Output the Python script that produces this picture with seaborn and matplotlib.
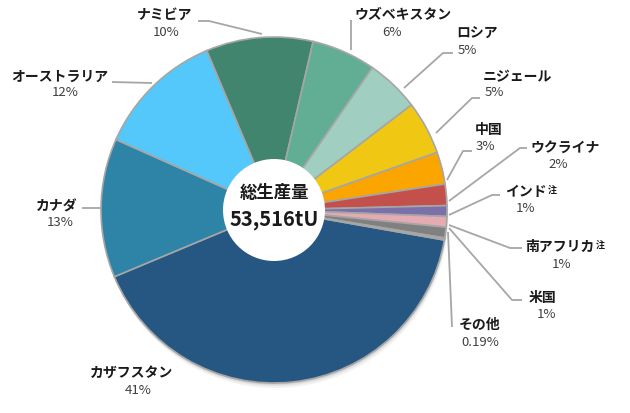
import seaborn as sns
import matplotlib.pyplot as plt
from matplotlib.patches import Circle

# データ（総生産量の国別シェア）
countries = ['カザフスタン', 'カナダ', 'オーストラリア', 'ナミビア', 'ウズベキスタン', 'ロシア',
             'ニジェール', '中国', 'ウクライナ', 'インド', '南アフリカ', '米国', 'その他']
shares = [41, 13, 12, 10, 6, 5, 5, 3, 2, 1, 1, 1, 0.19]
share_labels = ['41%', '13%', '12%', '10%', '6%', '5%', '5%', '3%', '2%', '1%', '1%', '1%', '0.19%']
noted = ['インド', '南アフリカ']
total_title = '総生産量'
total_value = '53,516tU'

colors = ['#255782', '#2E84A6', '#54C8FA', '#42856E', '#62AE95', '#A0CEC0',
          '#F0C814', '#FAA500', '#C4504C', '#7A71AA', '#E6AAB2', '#808080', '#A6A6A6']

sns.set_style('white')
plt.rcParams['font.family'] = ['Noto Sans CJK JP', 'DejaVu Sans']

W, H = 630, 413
fig = plt.figure(figsize=(6.3, 4.13), dpi=100)
ax = fig.add_axes([0, 0, 1, 1])

def Y(y):
    return H - y

cx, cy, r = 274, Y(210), 173

# 薄い影
for off, a in [(5, 0.10), (3, 0.15), (1.5, 0.2)]:
    ax.add_patch(Circle((cx + off * 0.3, cy - off), r, color='#808080', alpha=a, lw=0, zorder=0))

ax.pie(shares, colors=sns.color_palette(colors), startangle=-10, counterclock=False,
       center=(cx, cy), radius=r,
       wedgeprops=dict(edgecolor='#A6A6A6', linewidth=1.2))
ax.add_patch(Circle((cx, Y(210)), 51, color='white', lw=0, zorder=5))
ax.text(cx, Y(193), total_title, ha='center', va='center', fontsize=12.5,
        fontweight='bold', color='#1A1A1A', zorder=6)
ax.text(cx, Y(219), total_value, ha='center', va='center', fontsize=14.5,
        fontweight='bold', color='#1A1A1A', zorder=6)

# ラベル位置（ピクセル座標）
name_pos = {
    'カザフスタン': (132, 373, 'center'), 'カナダ': (57, 206, 'center'),
    'オーストラリア': (60, 77, 'center'), 'ナミビア': (165, 15, 'center'),
    'ウズベキスタン': (403, 15, 'center'), 'ロシア': (477, 33, 'center'),
    'ニジェール': (517, 77, 'center'), '中国': (489, 130, 'center'),
    'ウクライナ': (565, 148, 'center'), 'インド': (505, 192, 'left'),
    '南アフリカ': (525, 247, 'left'), '米国': (542, 298, 'center'),
    'その他': (480, 325, 'center'),
}
pct_pos = {
    'カザフスタン': (138, 390), 'カナダ': (60, 223), 'オーストラリア': (65, 93),
    'ナミビア': (166, 33), 'ウズベキスタン': (392, 33), 'ロシア': (467, 50),
    'ニジェール': (494, 93), '中国': (485, 147), 'ウクライナ': (558, 164),
    'インド': (526, 209), '南アフリカ': (562, 264), '米国': (547, 315),
    'その他': (480, 342),
}
leaders = {
    'カナダ': [(82, 208), (101, 208)],
    'オーストラリア': [(112, 82), (152, 83)],
    'ナミビア': [(198, 21), (209, 21), (262, 34)],
    'ウズベキスタン': [(351, 20), (351, 50)],
    'ロシア': [(453, 53), (443, 53), (404, 88)],
    'ニジェール': [(480, 98), (472, 98), (436, 133)],
    '中国': [(472, 151), (463, 151), (447, 180)],
    'ウクライナ': [(527, 148), (520, 148), (449, 201)],
    'インド': [(500, 195), (492, 195), (449, 215)],
    '南アフリカ': [(522, 248), (510, 248), (449, 225)],
    '米国': [(522, 300), (512, 300), (449, 228)],
    'その他': [(452, 327), (448, 232)],
}

for name, lab in zip(countries, share_labels):
    x, y, ha = name_pos[name]
    t = ax.text(x, Y(y), name, ha=ha, va='center', fontsize=10,
                fontweight='bold', color='#1A1A1A')
    if name in noted:
        ax.annotate('注', xy=(1, 1), xycoords=t, xytext=(1, -1), textcoords='offset points',
                    ha='left', va='top', fontsize=6.5, fontweight='bold', color='#1A1A1A')
    px, py = pct_pos[name]
    ax.text(px, Y(py), lab, ha='center', va='center', fontsize=9.5, color='#404040')
    if name in leaders:
        pts = leaders[name]
        ax.plot([p[0] for p in pts], [Y(p[1]) for p in pts], color='#A6A6A6', lw=1.3,
                solid_capstyle='butt', zorder=1)

ax.set_xlim(0, W)
ax.set_ylim(0, H)
ax.set_aspect('equal')
ax.axis('off')
fig.savefig('out.png', dpi=100)
